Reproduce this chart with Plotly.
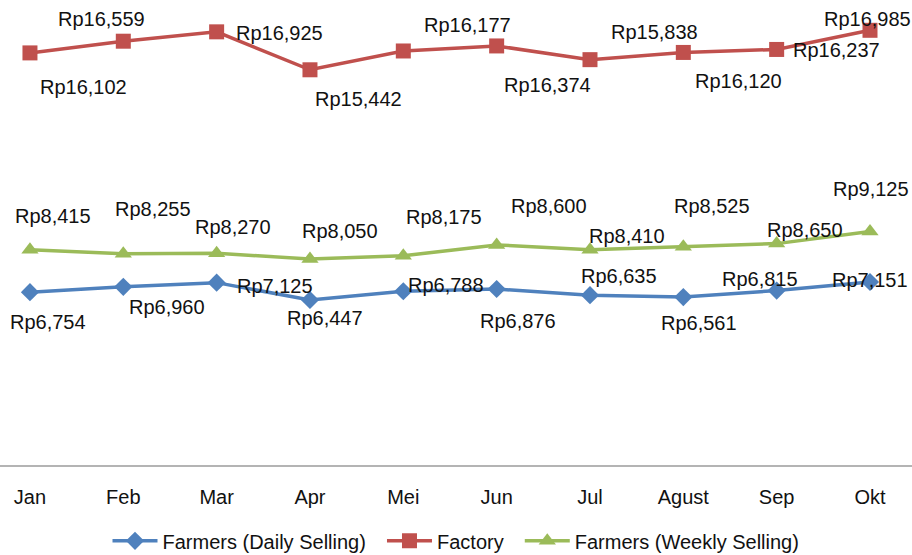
import plotly.graph_objects as go

months = ["Jan", "Feb", "Mar", "Apr", "Mei", "Jun", "Jul", "Agust", "Sep", "Okt"]
daily = [6754, 6960, 7125, 6447, 6788, 6876, 6635, 6561, 6815, 7151]
factory = [16102, 16559, 16925, 15442, 16177, 16374, 15838, 16120, 16237, 16985]
weekly = [8415, 8255, 8270, 8050, 8175, 8600, 8410, 8525, 8650, 9125]
series_names = ["Farmers (Daily Selling)", "Factory", "Farmers (Weekly Selling)"]

BLUE = "#4F81BD"
RED = "#C0504D"
GREEN = "#9BBB59"
FONT = "Liberation Sans, Arial, sans-serif"
PAD = "\u00a0\u00a0"

fig = go.Figure()
fig.add_trace(go.Scatter(x=months, y=daily, name=series_names[0] + PAD, mode="lines+markers",
                         line=dict(color=BLUE, width=3.5),
                         marker=dict(symbol="diamond", size=14, color=BLUE)))
fig.add_trace(go.Scatter(x=months, y=factory, name=series_names[1] + PAD, mode="lines+markers",
                         line=dict(color=RED, width=3.5),
                         marker=dict(symbol="square", size=15, color=RED)))
fig.add_trace(go.Scatter(x=months, y=weekly, name=series_names[2], mode="lines+markers",
                         line=dict(color=GREEN, width=3.5),
                         marker=dict(symbol="triangle-up", size=15, color=GREEN)))

# label offsets in screen pixels (dx right, dy down) relative to each point
factory_off = [(54, 34), (-22, -22), (63, 1), (49, 29), (64, -26), (51, 39), (65, -28), (55, 29), (60, 1), (-3, -11)]
weekly_off = [(23, -34), (30, -45), (16, -26), (30, -28), (41, -39), (52, -39), (37, -14), (29, -41), (28, -14), (1, -42)]
daily_off = [(18, 30), (44, 20), (58, 3), (15, 18), (43, -6), (21, 32), (29, -19), (16, 26), (-17, -12), (0, -2)]

annots = []
for series, offs in ((factory, factory_off), (weekly, weekly_off), (daily, daily_off)):
    for m, v, (dx, dy) in zip(months, series, offs):
        annots.append(dict(x=m, y=v, xref="x", yref="y", text=f"Rp{v:,}", showarrow=False,
                           xshift=dx, yshift=-dy, xanchor="center", yanchor="middle",
                           font=dict(family=FONT, size=20, color="#111111")))

fig.update_layout(
    width=912, height=555,
    margin=dict(l=0, r=0, t=0, b=90, pad=0, autoexpand=False),
    paper_bgcolor="white", plot_bgcolor="white",
    font=dict(family=FONT, size=20, color="#111111"),
    showlegend=True, hovermode=False,
    legend=dict(orientation="h", x=0.5, xanchor="center", y=-0.163, yanchor="middle",
                font=dict(family=FONT, size=20, color="#111111"), itemwidth=45,
                tracegroupgap=0),
    annotations=annots,
    xaxis=dict(type="category", range=[-0.321, 9.45], showgrid=False, zeroline=False,
               showline=True, linecolor="#b4b4b4", linewidth=2, ticks="",
               ticklabelstandoff=13, automargin=False,
               tickfont=dict(family=FONT, size=20, color="#111111")),
    yaxis=dict(range=[0, 18169], visible=False, showgrid=False, zeroline=False, automargin=False),
)

fig.write_html("out.html", config={"displayModeBar": False, "staticPlot": True},
               post_script="document.body.style.margin='0';document.body.style.overflow='hidden';")
